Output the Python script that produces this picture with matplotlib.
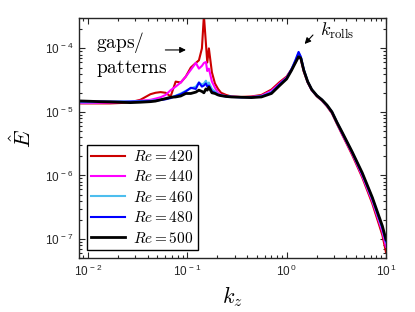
import numpy as np
import matplotlib
matplotlib.use('Agg')
import matplotlib.pyplot as plt
from matplotlib.ticker import LogLocator, FuncFormatter, NullFormatter

plt.rcParams['mathtext.fontset'] = 'cm'
plt.rcParams['font.family'] = ['Liberation Sans', 'DejaVu Sans']

# spanwise wavenumber
kz = [0.0081, 0.0105, 0.0132, 0.0167, 0.0211, 0.0267, 0.0337, 0.0426, 0.0479, 0.0538,
      0.0605, 0.068, 0.0764, 0.0859, 0.0966, 0.1085, 0.122, 0.131, 0.1404, 0.147,
      0.154, 0.159, 0.165, 0.177, 0.19, 0.204, 0.219, 0.246, 0.277, 0.349,
      0.441, 0.558, 0.704, 0.85, 1.0, 1.12, 1.23, 1.32, 1.39, 1.49,
      1.63, 1.79, 2.02, 2.27, 2.55, 2.86, 3.22, 3.62, 4.57, 5.77,
      7.29, 9.2, 10.0]

# energy spectra, in units of 1e-5
E_420 = [1.36, 1.36, 1.36, 1.36, 1.38, 1.42, 1.55, 1.90, 2.0, 2.05,
         2.0, 1.75, 3.0, 2.9, 3.6, 5.0, 5.9, 6.5, 10.0, 33.0,
         12.0, 6.0, 10.0, 4.2, 2.8, 2.3, 2.0, 1.85, 1.75, 1.72,
         1.75, 1.85, 2.25, 2.95, 3.6, 4.7, 6.0, 7.6, 6.8, 4.3,
         2.9, 2.2, 1.75, 1.50, 1.22, 0.95, 0.64, 0.44, 0.21, 0.093,
         0.036, 0.0115, 0.0062]
E_440 = [1.38, 1.38, 1.39, 1.40, 1.42, 1.45, 1.50, 1.55, 1.62, 1.70,
         1.85, 2.2, 2.5, 2.9, 3.6, 4.6, 5.9, 4.8, 5.3, 5.9,
         6.1, 4.4, 4.8, 3.0, 2.4, 2.0, 1.85, 1.78, 1.74, 1.71,
         1.72, 1.80, 2.15, 2.8, 3.5, 4.6, 6.2, 7.8, 7.0, 4.4,
         2.95, 2.2, 1.77, 1.52, 1.24, 0.97, 0.66, 0.45, 0.22, 0.098,
         0.039, 0.013, 0.0075]
E_460 = [1.42, 1.42, 1.43, 1.44, 1.45, 1.46, 1.48, 1.50, 1.53, 1.56,
         1.62, 1.70, 1.80, 1.95, 2.15, 2.35, 2.5, 2.9, 2.7, 2.8,
         3.1, 2.7, 2.9, 2.3, 2.1, 1.9, 1.82, 1.77, 1.73, 1.70,
         1.71, 1.76, 2.05, 2.7, 3.4, 4.6, 6.4, 8.5, 7.3, 4.6,
         3.0, 2.25, 1.79, 1.54, 1.26, 0.99, 0.67, 0.47, 0.23, 0.105,
         0.042, 0.0145, 0.0088]
E_480 = [1.46, 1.46, 1.46, 1.45, 1.45, 1.45, 1.46, 1.48, 1.50, 1.54,
         1.58, 1.65, 1.78, 1.90, 2.1, 2.4, 2.3, 2.9, 2.5, 2.6,
         2.8, 2.5, 2.6, 2.1, 2.0, 1.85, 1.80, 1.75, 1.72, 1.70,
         1.70, 1.74, 2.0, 2.7, 3.4, 4.7, 6.6, 8.8, 7.4, 4.6,
         3.0, 2.25, 1.80, 1.55, 1.27, 1.0, 0.68, 0.47, 0.232, 0.107,
         0.044, 0.0152, 0.0092]
E_500 = [1.49, 1.47, 1.45, 1.44, 1.42, 1.40, 1.42, 1.45, 1.48, 1.55,
         1.62, 1.70, 1.72, 1.78, 1.95, 1.95, 2.05, 2.2, 2.1, 2.0,
         2.3, 2.2, 2.45, 2.0, 1.95, 1.85, 1.80, 1.75, 1.72, 1.70,
         1.68, 1.72, 1.95, 2.6, 3.3, 4.5, 6.0, 7.4, 7.0, 4.5,
         3.0, 2.25, 1.80, 1.55, 1.28, 1.0, 0.68, 0.48, 0.235, 0.11,
         0.045, 0.016, 0.0098]

Re = [420, 440, 460, 480, 500]
spectra = [E_420, E_440, E_460, E_480, E_500]
colors = ['#CC0000', '#FF00FF', '#4DBEEE', '#0000FF', '#000000']
widths = [1.5, 1.5, 1.5, 1.5, 2.0]

fig = plt.figure(figsize=(4.15, 3.12), dpi=100)
ax = fig.add_axes([0.19, 0.173, 0.74, 0.769])

for r, E, c, w in zip(Re, spectra, colors, widths):
    ax.plot(kz, np.array(E) * 1e-5, color=c, lw=w, label='$Re = %d$' % r)

ax.set_xscale('log')
ax.set_yscale('log')
ax.set_xlim(0.0081, 10)
ax.set_ylim(5e-8, 3e-4)

gray = '#262626'
ax.xaxis.set_major_locator(LogLocator(base=10, numticks=10))
ax.yaxis.set_major_locator(LogLocator(base=10, numticks=10))
ax.xaxis.set_minor_locator(LogLocator(base=10, subs=np.arange(2, 10), numticks=20))
ax.yaxis.set_minor_locator(LogLocator(base=10, subs=np.arange(2, 10), numticks=20))
fmt = FuncFormatter(lambda v, p: r'$\mathregular{10^{\,%d}}$' % int(round(np.log10(v))))
ax.xaxis.set_major_formatter(fmt)
ax.yaxis.set_major_formatter(fmt)
ax.xaxis.set_minor_formatter(NullFormatter())
ax.yaxis.set_minor_formatter(NullFormatter())
ax.tick_params(which='both', direction='in', top=True, right=True, colors=gray,
               labelsize=8.5, width=0.8)
ax.tick_params(which='major', length=4, pad=4)
ax.tick_params(which='minor', length=2)
for s in ax.spines.values():
    s.set_color(gray)
    s.set_linewidth(1.0)

ax.set_xlabel('$k_z$', fontsize=16, labelpad=4)
ax.set_ylabel(r'$\hat{E}$', fontsize=16, labelpad=6)

ax.text(0.0121, 7.9e-5, '$\\mathrm{gaps/}$\n$\\mathrm{patterns}$', fontsize=14,
        ha='left', va='center', linespacing=1.2)
ax.annotate('', xy=(0.1034, 9.45e-5), xytext=(0.0564, 9.45e-5),
            arrowprops=dict(arrowstyle='-|>', color='k', lw=0.8, mutation_scale=9))
ax.text(2.15, 1.9e-4, r'$k_{\rm rolls}$', fontsize=13, ha='left', va='center')
ax.annotate('', xy=(1.453, 1.09e-4), xytext=(1.924, 1.75e-4),
            arrowprops=dict(arrowstyle='-|>', color='k', lw=0.8, mutation_scale=9))

leg = ax.legend(loc='lower left', bbox_to_anchor=(0.026, 0.033), borderaxespad=0,
                fontsize=11, fancybox=False, framealpha=1, edgecolor='k',
                handlelength=2.2, labelspacing=0.35, borderpad=0.3, handletextpad=0.5)
leg.get_frame().set_linewidth(1.0)

fig.savefig('out.png', dpi=100)
